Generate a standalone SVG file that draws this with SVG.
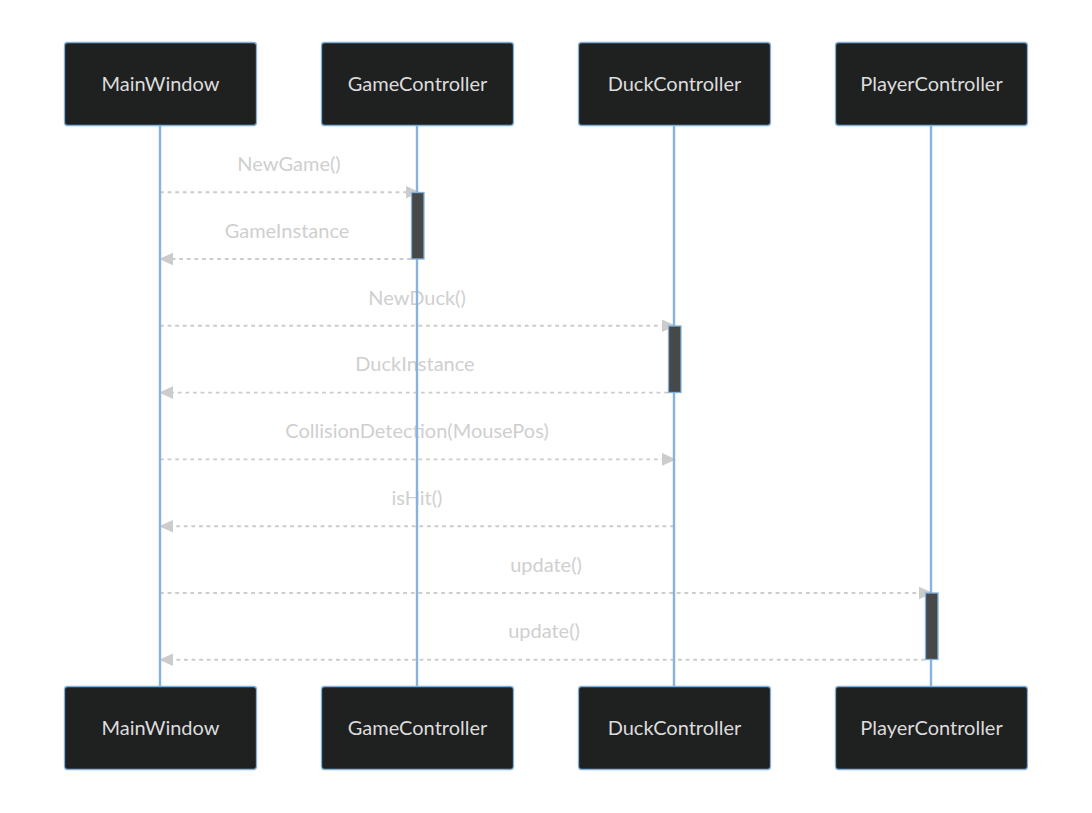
<svg xmlns="http://www.w3.org/2000/svg" width="1092" height="813" viewBox="0 0 1092 813">
<style>
.actor rect{fill:#1f2020;stroke:#81b1db;stroke-width:1.3}
.actor text{fill:#dcdcdc;font-family:Lato,"Open Sans",sans-serif;font-size:20px;text-anchor:middle;dominant-baseline:central}
.life{stroke:#86b4de;stroke-width:2.4}
.msg{stroke:#cccccc;stroke-width:1.9;stroke-dasharray:3.8,3.8;fill:none}
.lbl{fill:#cfcfcf;font-family:Lato,"Open Sans",sans-serif;font-size:20px;text-anchor:middle}
.head{fill:#cccccc}
.act{fill:#474949;stroke:#81b1db;stroke-width:1.3}
</style>
<rect width="1092" height="813" fill="#ffffff"/>
<g id="connectors">
<path class="msg" d="M160,192.3H411"/>
<path class="msg" d="M411,259H166"/>
<path class="msg" d="M160,325.8H668"/>
<path class="msg" d="M668,392.6H166"/>
<path class="msg" d="M160,459.4H670"/>
<path class="msg" d="M674,526.2H166"/>
<path class="msg" d="M160,593H925"/>
<path class="msg" d="M925,659.8H166"/>
<polygon class="head" points="420,192.3 406,186 406,198.6"/>
<polygon class="head" points="159,259 173,252.7 173,265.3"/>
<polygon class="head" points="676,325.8 662,319.5 662,332.1"/>
<polygon class="head" points="159,392.6 173,386.3 173,398.9"/>
<polygon class="head" points="676,459.4 662,453.1 662,465.7"/>
<polygon class="head" points="159,526.2 173,519.9 173,532.5"/>
<polygon class="head" points="933,593 919,586.7 919,599.3"/>
<polygon class="head" points="159,659.8 173,653.5 173,666.1"/>
<text class="lbl" x="289" y="171">NewGame()</text>
<text class="lbl" x="287" y="238">GameInstance</text>
<text class="lbl" x="417" y="305">NewDuck()</text>
<text class="lbl" x="415" y="371">DuckInstance</text>
<text class="lbl" x="417" y="438">CollisionDetection(MousePos)</text>
<text class="lbl" x="417" y="505">isHit()</text>
<text class="lbl" x="546" y="572">update()</text>
<text class="lbl" x="544" y="638">update()</text>
<line class="life" x1="160" y1="125" x2="160" y2="686"/>
<line class="life" x1="417" y1="125" x2="417" y2="686"/>
<line class="life" x1="674" y1="125" x2="674" y2="686"/>
<line class="life" x1="931" y1="125" x2="931" y2="686"/>
<rect class="act" x="411.5" y="192.5" width="12.5" height="66.5"/>
<rect class="act" x="668.5" y="326" width="12.5" height="66.5"/>
<rect class="act" x="925.5" y="593" width="12.5" height="66.5"/>
</g>
<g id="MainWindow" class="actor"><rect x="64.5" y="42.5" width="192" height="83" rx="3"/><text x="160.5" y="83">MainWindow</text></g>
<g id="GameController" class="actor"><rect x="321.5" y="42.5" width="192" height="83" rx="3"/><text x="417.5" y="83">GameController</text></g>
<g id="DuckController" class="actor"><rect x="578.5" y="42.5" width="192" height="83" rx="3"/><text x="674.5" y="83">DuckController</text></g>
<g id="PlayerController" class="actor"><rect x="835.5" y="42.5" width="192" height="83" rx="3"/><text x="931.5" y="83">PlayerController</text></g>
<g id="MainWindow-bottom" class="actor"><rect x="64.5" y="686.5" width="192" height="83" rx="3"/><text x="160.5" y="727">MainWindow</text></g>
<g id="GameController-bottom" class="actor"><rect x="321.5" y="686.5" width="192" height="83" rx="3"/><text x="417.5" y="727">GameController</text></g>
<g id="DuckController-bottom" class="actor"><rect x="578.5" y="686.5" width="192" height="83" rx="3"/><text x="674.5" y="727">DuckController</text></g>
<g id="PlayerController-bottom" class="actor"><rect x="835.5" y="686.5" width="192" height="83" rx="3"/><text x="931.5" y="727">PlayerController</text></g>
</svg>
